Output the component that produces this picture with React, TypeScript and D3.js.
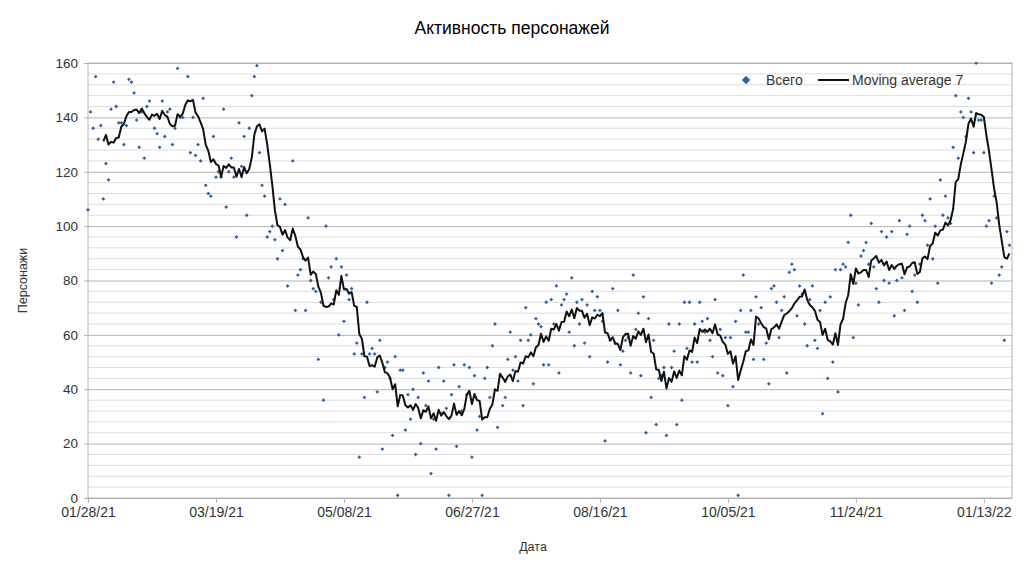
// @ts-nocheck
import React from "react";
import * as d3 from "d3";

// daily totals starting 01/28/21 (one value per day)
const startDate = "2021-01-28";
const endDate = "2022-01-24";
const totals = [
  106, 142, 136, 155, 132, 137, 110, 123, 117, 143,
  153, 144, 138, 138, 130, 137, 154, 153, 149, 139,
  129, 142, 125, 144, 146, 162, 136, 134, 129, 146,
  133, 142, 143, 130, 136, 158, 140, 140, 165, 155,
  127, 140, 126, 130, 124, 147, 115, 112, 111, 133,
  118, 120, 118, 143, 107, 120, 125, 118, 96, 138,
  122, 133, 104, 136, 148, 155, 159, 127, 115, 111,
  96, 98, 100, 95, 88, 110, 91, 108, 78, 95,
  124, 69, 82, 84, 88, 69, 103, 80, 77, 76,
  51, 72, 36, 100, 81, 85, 73, 88, 60, 85,
  65, 82, 73, 77, 53, 57, 15, 53, 37, 72,
  53, 55, 53, 39, 58, 18, 48, 50, 44, 23,
  52, 1, 47, 47, 25, 38, 29, 40, 16, 37,
  20, 46, 34, 43, 9, 29, 18, 48, 31, 43,
  33, 1, 38, 49, 19, 41, 32, 49, 38, 48,
  15, 45, 25, 30, 1, 44, 48, 37, 56, 64,
  26, 45, 34, 37, 51, 61, 47, 52, 43, 58,
  34, 70, 58, 60, 42, 66, 64, 63, 49, 72,
  49, 73, 64, 78, 46, 71, 73, 75, 61, 81,
  56, 72, 64, 73, 57, 71, 52, 76, 69, 74,
  69, 65, 21, 50, 58, 77, 57, 69, 49, 54,
  58, 59, 46, 82, 62, 68, 45, 74, 24, 66,
  37, 58, 27, 44, 45, 48, 23, 64, 48, 54,
  27, 64, 36, 72, 55, 72, 50, 64, 50, 72,
  65, 61, 66, 58, 52, 73, 46, 62, 45, 59,
  34, 59, 41, 65, 1, 69, 82, 61, 61, 69,
  51, 74, 64, 70, 51, 57, 42, 77, 78, 72,
  59, 69, 74, 46, 83, 86, 84, 67, 78, 75,
  64, 56, 73, 78, 58, 55, 69, 31, 72, 44,
  74, 50, 84, 39, 84, 86, 85, 94, 104, 59,
  79, 71, 89, 91, 94, 86, 101, 85, 77, 72,
  98, 80, 96, 79, 98, 67, 80, 102, 81, 69,
  97, 100, 76, 82, 72, 86, 104, 102, 93, 110,
  88, 100, 79, 117, 104, 111, 103, 101, 129, 148,
  125, 142, 140, 133, 147, 142, 127, 160, 139, 139,
  127, 100, 102, 79, 111, 103, 82, 85, 58, 98,
  93,
];
const xTickLabels = ["01/28/21", "03/19/21", "05/08/21", "06/27/21", "08/16/21", "10/05/21", "11/24/21", "01/13/22"];
const yMajorTicks = [0, 20, 40, 60, 80, 100, 120, 140, 160];
const windowSize = 7;

const W = 1024;
const H = 567;
const margin = { top: 63, right: 12, bottom: 69, left: 88 };
const FONT = "'Liberation Sans', Arial, sans-serif";
const BLUE = "#2a62a6";

const App = () => {
  const svgRef = React.useRef(null);

  React.useEffect(() => {
    const width = W - margin.left - margin.right;
    const height = H - margin.top - margin.bottom;
    const parse = d3.utcParse("%Y-%m-%d");
    const parseTick = d3.utcParse("%m/%d/%y");
    const start = parse(startDate);
    const points = totals.map((v, i) => ({ date: d3.utcDay.offset(start, i), value: v }));
    // trailing 7-point moving average
    const avg = points.slice(windowSize - 1).map((p, i) => ({
      date: p.date,
      value: d3.mean(totals.slice(i, i + windowSize)),
    }));

    const xScale = d3.scaleUtc().domain([start, parse(endDate)]).range([0, width]);
    const yScale = d3.scaleLinear().domain([0, 160]).range([height, 0]);

    const svgEl = d3.select(svgRef.current);
    svgEl.selectAll("*").remove();

    svgEl.append("text")
      .attr("x", 512).attr("y", 34)
      .attr("text-anchor", "middle")
      .attr("font-family", FONT).attr("font-size", 17.5).attr("fill", "#000")
      .text("Активность персонажей");

    const svg = svgEl.append("g").attr("transform", `translate(${margin.left},${margin.top})`);

    // minor grid every 4
    svg.append("g").selectAll("line")
      .data(d3.range(0, 161, 4).filter((v) => v % 20 !== 0))
      .enter().append("line")
      .attr("x1", 0).attr("x2", width)
      .attr("y1", (d) => yScale(d)).attr("y2", (d) => yScale(d))
      .attr("stroke", "#dddddd").attr("stroke-width", 1);

    // y axis with major grid
    const yAxis = d3.axisLeft(yScale).tickValues(yMajorTicks).tickSize(-width - 4).tickPadding(6);
    const yAxisGroup = svg.append("g").attr("transform", "translate(-4,0)").call(yAxis);
    yAxisGroup.select(".domain").remove();
    yAxisGroup.selectAll("line").attr("stroke", "#b3b3b3");
    yAxisGroup.selectAll("text")
      .attr("font-family", FONT).attr("font-size", 13.5).attr("fill", "#333");

    // x axis
    const xAxis = d3.axisBottom(xScale)
      .tickValues(xTickLabels.map((t) => parseTick(t)))
      .tickFormat(d3.utcFormat("%m/%d/%y"))
      .tickSize(5).tickPadding(4);
    const xAxisGroup = svg.append("g").attr("transform", `translate(0,${height})`).call(xAxis);
    xAxisGroup.select(".domain").remove();
    xAxisGroup.selectAll("line").attr("stroke", "#b3b3b3");
    xAxisGroup.selectAll("text")
      .attr("font-family", FONT).attr("font-size", 14).attr("fill", "#333");

    // plot frame
    svg.append("rect")
      .attr("width", width).attr("height", height)
      .attr("fill", "none").attr("stroke", "#b3b3b3");

    svg.append("clipPath").attr("id", "plot-clip")
      .append("rect").attr("x", -2).attr("y", -1).attr("width", width + 4).attr("height", height + 3);

    const plot = svg.append("g").attr("clip-path", "url(#plot-clip)");

    plot.append("g")
      .selectAll("path")
      .data(points)
      .enter()
      .append("path")
      .attr("d", d3.symbol(d3.symbolDiamond2, 9))
      .attr("transform", (d) => `translate(${xScale(d.date)},${yScale(d.value)})`)
      .attr("fill", BLUE);

    const line = d3.line()
      .x((d) => xScale(d.date))
      .y((d) => yScale(d.value));
    plot.append("path")
      .datum(avg)
      .attr("fill", "none")
      .attr("stroke", "#111")
      .attr("stroke-width", 2)
      .attr("stroke-linejoin", "round")
      .attr("d", line);

    // axis titles
    svgEl.append("text")
      .attr("x", 533).attr("y", 551)
      .attr("text-anchor", "middle")
      .attr("font-family", FONT).attr("font-size", 12.5).attr("fill", "#333")
      .text("Дата");
    svgEl.append("text")
      .attr("transform", `translate(27,${margin.top + height / 2}) rotate(-90)`)
      .attr("text-anchor", "middle")
      .attr("font-family", FONT).attr("font-size", 12.5).attr("fill", "#333")
      .text("Персонажи");

    // legend
    const legend = svgEl.append("g").attr("transform", "translate(746,80)");
    legend.append("path")
      .attr("d", d3.symbol(d3.symbolDiamond2, 45))
      .attr("fill", BLUE);
    legend.append("text")
      .attr("x", 20).attr("y", 5)
      .attr("font-family", FONT).attr("font-size", 14).attr("fill", "#333")
      .text("Всего");
    legend.append("line")
      .attr("x1", 72).attr("x2", 103).attr("y1", 0).attr("y2", 0)
      .attr("stroke", "#111").attr("stroke-width", 2);
    legend.append("text")
      .attr("x", 106).attr("y", 5)
      .attr("font-family", FONT).attr("font-size", 14).attr("fill", "#333")
      .text("Moving average 7");
  }, []);

  return (
    <svg
      ref={svgRef}
      width={W}
      height={H}
      style={{ position: "absolute", left: 0, top: 0, background: "#fff" }}
    />
  );
};

export default App;
